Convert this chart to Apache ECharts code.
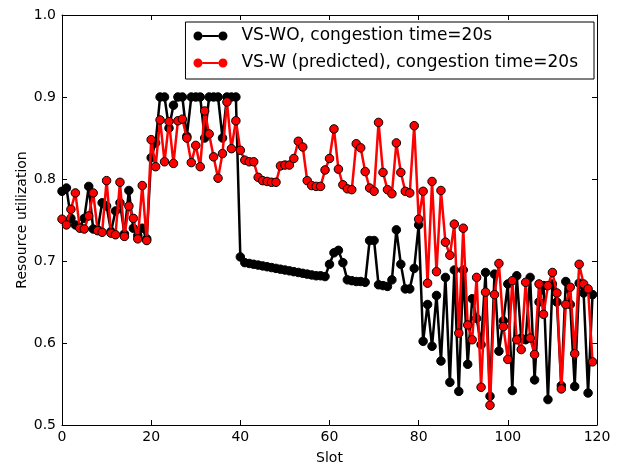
<!DOCTYPE html>
<html>
<head>
<meta charset="utf-8">
<script src="https://cdn.jsdelivr.net/npm/echarts@6/dist/echarts.min.js"></script>
<style>html,body{margin:0;padding:0;background:#fff;}#c{width:621px;height:470px;}</style>
</head>
<body>
<div id="c"></div>
<script>
const seriesNames = ['VS-WO, congestion time=20s', 'VS-W (predicted), congestion time=20s'];
const xTicks = [0, 20, 40, 60, 80, 100, 120];
const yTicks = [0.5, 0.6, 0.7, 0.8, 0.9, 1.0];

const vsWO = [
  0.785, 0.789, 0.752, 0.744, 0.741, 0.752, 0.791, 0.739, 0.738, 0.771,
  0.767, 0.736, 0.761, 0.771, 0.733, 0.786, 0.740, 0.731, 0.740, 0.727,
  0.826, 0.844, 0.900, 0.900, 0.862, 0.890, 0.900, 0.900, 0.852, 0.900,
  0.900, 0.900, 0.850, 0.900, 0.900, 0.900, 0.850, 0.900, 0.900, 0.900,
  0.705, 0.698, 0.697, 0.696, 0.695, 0.694, 0.693, 0.692, 0.691, 0.690,
  0.689, 0.688, 0.687, 0.686, 0.685, 0.684, 0.683, 0.682, 0.682, 0.681,
  0.696, 0.710, 0.713, 0.698, 0.677, 0.676, 0.675, 0.675, 0.674, 0.725,
  0.725, 0.671, 0.670, 0.669, 0.677, 0.738, 0.696, 0.666, 0.666, 0.691,
  0.744, 0.602, 0.647, 0.596, 0.658, 0.578, 0.680, 0.552, 0.689, 0.541,
  0.689, 0.574, 0.654, 0.630, 0.598, 0.686, 0.535, 0.684, 0.590, 0.627,
  0.672, 0.542, 0.682, 0.606, 0.604, 0.680, 0.555, 0.650, 0.670, 0.531,
  0.672, 0.650, 0.548, 0.675, 0.647, 0.547, 0.673, 0.661, 0.539, 0.659
];

const vsW = [
  0.751, 0.744, 0.763, 0.783, 0.740, 0.739, 0.755, 0.783, 0.737, 0.735,
  0.798, 0.734, 0.732, 0.796, 0.730, 0.767, 0.752, 0.727, 0.792, 0.725,
  0.848, 0.815, 0.872, 0.821, 0.870, 0.819, 0.871, 0.873, 0.850, 0.820,
  0.841, 0.815, 0.883, 0.855, 0.827, 0.801, 0.831, 0.894, 0.837, 0.871,
  0.835, 0.823, 0.821, 0.821, 0.802, 0.798, 0.797, 0.796, 0.796, 0.816,
  0.817, 0.817, 0.825, 0.846, 0.839, 0.798, 0.792, 0.791, 0.791, 0.811,
  0.825, 0.861, 0.812, 0.793, 0.788, 0.787, 0.843, 0.838, 0.809, 0.789,
  0.785, 0.869, 0.808, 0.787, 0.782, 0.844, 0.808, 0.785, 0.783, 0.865,
  0.751, 0.785, 0.673, 0.797, 0.687, 0.786, 0.723, 0.707, 0.745, 0.612,
  0.740, 0.622, 0.604, 0.680, 0.546, 0.662, 0.524, 0.659, 0.697, 0.620,
  0.580, 0.676, 0.604, 0.592, 0.674, 0.606, 0.586, 0.672, 0.635, 0.670,
  0.686, 0.661, 0.544, 0.647, 0.668, 0.587, 0.696, 0.672, 0.666, 0.577
];

const FONT = 'DejaVu Sans';
const toPairs = arr => arr.map((v, i) => [i, v]);
const legendIcon = 'path://M0,4.5A4.5,4.5,0,1,1,9,4.5A4.5,4.5,0,1,1,0,4.5ZM25,4.5A4.5,4.5,0,1,1,34,4.5A4.5,4.5,0,1,1,25,4.5ZM9,3.5L25,3.5L25,5.5L9,5.5Z';

const chart = echarts.init(document.getElementById('c'), null, {renderer: 'canvas'});

const xBase = {
  type: 'value', min: xTicks[0], max: xTicks[xTicks.length - 1], interval: xTicks[1] - xTicks[0],
  splitLine: {show: false},
  axisLine: {show: true, onZero: false, lineStyle: {color: '#000', width: 1}},
  axisTick: {show: true, inside: true, length: 5, lineStyle: {color: '#000'}}
};
const yBase = {
  type: 'value', min: yTicks[0], max: yTicks[yTicks.length - 1], interval: 0.1,
  splitLine: {show: false},
  axisLine: {show: true, onZero: false, lineStyle: {color: '#000', width: 1}},
  axisTick: {show: true, inside: true, length: 5, lineStyle: {color: '#000'}}
};

chart.setOption({
  animation: false,
  backgroundColor: '#fff',
  grid: {left: 62, right: 24, top: 15, bottom: 42, containLabel: false},
  legend: {
    orient: 'vertical', right: 27, top: 22,
    backgroundColor: '#fff', borderColor: '#000', borderWidth: 1, borderRadius: 0,
    padding: [4, 16, 6, 8], itemGap: 7, itemWidth: 34, itemHeight: 9,
    icon: legendIcon,
    textStyle: {fontFamily: FONT, fontSize: 17, color: '#000', lineHeight: 20, padding: [0, 0, 0, 9]},
    data: [
      {name: seriesNames[0], itemStyle: {color: '#000', borderWidth: 0}},
      {name: seriesNames[1], itemStyle: {color: '#ff0000', borderWidth: 0}}
    ]
  },
  xAxis: [
    Object.assign({}, xBase, {
      position: 'bottom', name: 'Slot', nameLocation: 'middle', nameGap: 26, nameMoveOverlap: false,
      nameTextStyle: {fontFamily: FONT, fontSize: 14, color: '#000'},
      axisLabel: {fontFamily: FONT, fontSize: 14, color: '#000', margin: 5}
    }),
    Object.assign({}, xBase, {position: 'top', axisLabel: {show: false}})
  ],
  yAxis: [
    Object.assign({}, yBase, {
      position: 'left', name: 'Resource utilization', nameLocation: 'middle', nameGap: 33, nameMoveOverlap: false,
      nameTextStyle: {fontFamily: FONT, fontSize: 14, color: '#000'},
      axisLabel: {fontFamily: FONT, fontSize: 14, color: '#000', margin: 6, formatter: v => v.toFixed(1)}
    }),
    Object.assign({}, yBase, {position: 'right', axisLabel: {show: false}})
  ],
  series: [
    {
      name: seriesNames[0], type: 'line', xAxisIndex: 0, yAxisIndex: 0,
      data: toPairs(vsWO), symbol: 'circle', symbolSize: 8.5, showSymbol: true,
      lineStyle: {color: '#000', width: 2.5},
      itemStyle: {color: '#000', borderColor: '#000', borderWidth: 1},
      z: 2
    },
    {
      name: seriesNames[1], type: 'line', xAxisIndex: 0, yAxisIndex: 0,
      data: toPairs(vsW), symbol: 'circle', symbolSize: 8.5, showSymbol: true,
      lineStyle: {color: '#ff0000', width: 2.5},
      itemStyle: {color: '#ff0000', borderColor: '#000', borderWidth: 1},
      z: 3
    }
  ]
});
</script>
</body>
</html>
